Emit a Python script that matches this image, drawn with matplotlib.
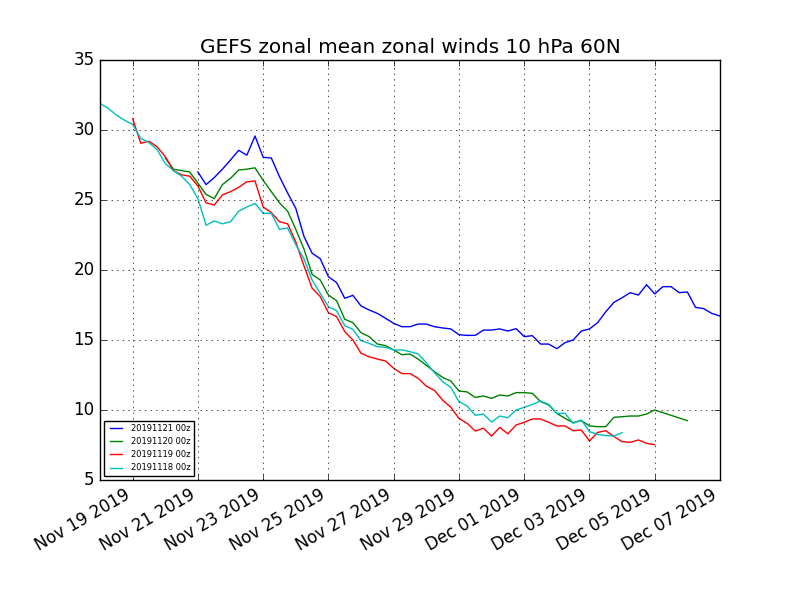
#!/usr/bin/env python3
"""GEFS zonal mean zonal winds 10 hPa 60N - four consecutive 00z runs."""
import datetime as dt
import matplotlib
matplotlib.use("Agg")
import matplotlib.pyplot as plt
import matplotlib.dates as mdates

plt.style.use("classic")

# 6-hourly forecast values (m/s), one list per run
u_20191121 = [27.0, 26.1, 26.6, 27.2, 27.86, 28.55, 28.2, 29.57, 28.05, 28.0,
              26.67, 25.5, 24.4, 22.4, 21.2, 20.8, 19.52, 19.1, 17.98, 18.19,
              17.43, 17.14, 16.9, 16.55, 16.19, 15.95, 15.95, 16.14, 16.14, 15.95,
              15.86, 15.79, 15.38, 15.33, 15.33, 15.71, 15.71, 15.79, 15.64, 15.81,
              15.24, 15.31, 14.71, 14.71, 14.38, 14.81, 15.0, 15.64, 15.79, 16.24,
              17.02, 17.69, 18.02, 18.38, 18.21, 18.95, 18.29, 18.81, 18.81, 18.38,
              18.43, 17.33, 17.24, 16.9, 16.71]
u_20191120 = [28.0, 27.2, 27.1, 27.0, 26.2, 25.4, 25.1, 26.1, 26.55, 27.14,
              27.2, 27.3, 26.4, 25.6, 24.8, 24.2, 22.9, 21.5, 19.69, 19.29,
              18.21, 17.81, 16.48, 16.24, 15.52, 15.24, 14.71, 14.6, 14.29, 13.95,
              14.0, 13.64, 13.19, 12.74, 12.33, 12.07, 11.36, 11.29, 10.9, 11.0,
              10.83, 11.07, 11.0, 11.24, 11.24, 11.19, 10.6, 10.36, 9.76, 9.4,
              9.1, 9.24, 8.86, 8.81, 8.81, 9.48, 9.52, 9.57, 9.57, 9.71,
              10.0, 9.24]
u_20191119 = [30.8, 29.05, 29.2, 28.8, 28.1, 27.1, 26.8, 26.7, 26.0, 24.8,
              24.64, 25.36, 25.6, 25.9, 26.3, 26.36, 24.5, 24.1, 23.45, 23.3,
              22.0, 20.3, 18.7, 18.1, 16.95, 16.67, 15.6, 15.0, 14.05, 13.8,
              13.64, 13.5, 12.98, 12.6, 12.6, 12.26, 11.7, 11.4, 10.7, 10.2,
              9.4, 9.05, 8.5, 8.7, 8.14, 8.76, 8.3, 8.93, 9.12, 9.36,
              9.36, 9.12, 8.86, 8.86, 8.52, 8.57, 7.79, 8.4, 8.52, 8.1,
              7.74, 7.69, 7.86, 7.62, 7.52]
u_20191118 = [31.9, 31.55, 31.07, 30.7, 30.4, 29.4, 29.1, 28.6, 27.6, 27.1,
              26.7, 26.1, 25.1, 23.2, 23.5, 23.3, 23.45, 24.2, 24.5, 24.76,
              24.05, 24.05, 22.9, 23.0, 21.8, 20.8, 19.29, 18.33, 17.38, 17.1,
              16.02, 15.76, 14.95, 14.76, 14.52, 14.48, 14.29, 14.29, 14.17, 14.0,
              13.38, 12.67, 12.02, 11.62, 10.6, 10.29, 9.62, 9.71, 9.14, 9.57,
              9.45, 10.0, 10.19, 10.4, 10.64, 10.4, 9.76, 9.76, 9.05, 9.29,
              8.45, 8.26, 8.17, 8.14, 8.38]

# forecast lead times (h); the 20191120 run has a gap before its last point
leads_full = list(range(0, 385, 6))
leads_1120 = list(range(0, 361, 6)) + [384]

runs = [
    ("20191121 00z", dt.datetime(2019, 11, 21), leads_full, u_20191121, "b"),
    ("20191120 00z", dt.datetime(2019, 11, 20), leads_1120, u_20191120, "g"),
    ("20191119 00z", dt.datetime(2019, 11, 19), leads_full, u_20191119, "r"),
    ("20191118 00z", dt.datetime(2019, 11, 18), leads_full, u_20191118, "c"),
]

fig, ax = plt.subplots(figsize=(8, 6), dpi=100)
for label, t0, leads, u, col in runs:
    t = [t0 + dt.timedelta(hours=h) for h in leads]
    ax.plot(t, u, color=col, label=label)

ax.set_xlim(dt.datetime(2019, 11, 18), dt.datetime(2019, 12, 7))
ax.set_ylim(5, 35)
ax.xaxis.set_major_locator(mdates.DayLocator(bymonthday=range(1, 32, 2)))
ax.xaxis.set_major_formatter(mdates.DateFormatter("%b %d %Y"))
ax.grid(True)
ax.set_title("GEFS zonal mean zonal winds 10 hPa 60N")
ax.legend(loc="lower left", fontsize=6)
fig.autofmt_xdate()
fig.savefig("out.png", dpi=100)
